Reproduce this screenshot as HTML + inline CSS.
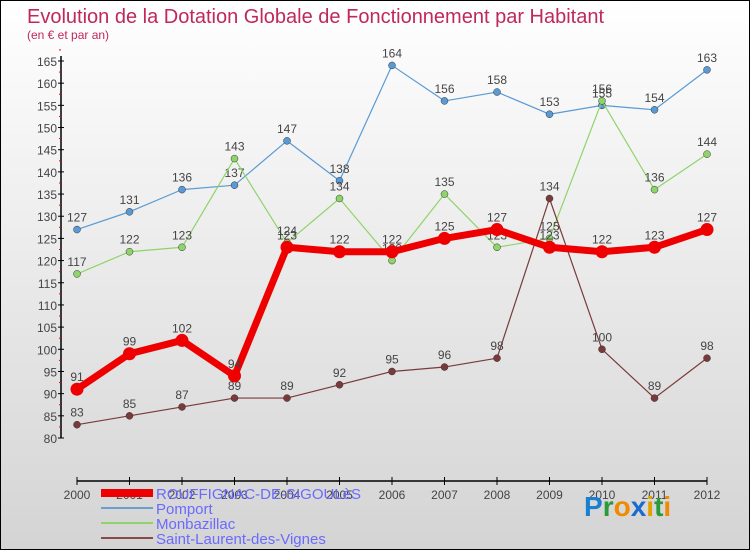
<!DOCTYPE html>
<html><head><meta charset="utf-8"><style>
body{margin:0;}
#c{width:748px;height:548px;border:1px solid #000;background:linear-gradient(#fff,#d4d4d4);position:relative;overflow:hidden;font-family:"Liberation Sans",sans-serif;}
</style></head><body>
<div id="c">
<svg id="s" width="748" height="548" xmlns="http://www.w3.org/2000/svg" style="position:absolute;left:0;top:0">
<text x="26" y="22" font-size="20" fill="#c0285a">Evolution de la Dotation Globale de Fonctionnement par Habitant</text>
<text x="26" y="38" font-size="12" fill="#c0285a">(en € et par an)</text>
<g id="axes"></g><g id="plot"></g>
<g font-size="15" fill="#6a6aff">
<rect x="100" y="488" width="52" height="8" fill="#ee0000"/>
<text x="155" y="498">ROUFFIGNAC-DE-SIGOULèS</text>
<rect x="100" y="506" width="52" height="2" fill="#6a9fd0"/>
<text x="155" y="513">Pomport</text>
<rect x="100" y="521" width="52" height="2" fill="#8fd46a"/>
<text x="155" y="528">Monbazillac</text>
<rect x="100" y="536" width="52" height="2" fill="#8a4a4a"/>
<text x="155" y="543">Saint-Laurent-des-Vignes</text>
</g>
<text x="583" y="515" font-size="28" font-weight="bold"><tspan fill="#1a7fd0">P</tspan><tspan fill="#2a9a3a">r</tspan><tspan fill="#f08a00">o</tspan><tspan fill="#1a6ad0">x</tspan><tspan fill="#e0a000">i</tspan><tspan fill="#2a9a3a">t</tspan><tspan fill="#f08a00">i</tspan></text>
</svg>
</div>
<script>
const years=[2000,2001,2002,2003,2004,2005,2006,2007,2008,2009,2010,2011,2012];
const rouffignac=[91,99,102,94,123,122,122,125,127,123,122,123,127];
const pomport=[127,131,136,137,147,138,164,156,158,153,155,154,163];
const monbazillac=[117,122,123,143,124,134,120,135,123,125,156,136,144];
const saintLaurent=[83,85,87,89,89,92,95,96,98,134,100,89,98];
const yTicks=[80,85,90,95,100,105,110,115,120,125,130,135,140,145,150,155,160,165];
const NS="http://www.w3.org/2000/svg";
function X(i){return 76+i*52.5;}
function Y(v){return 437-(v-80)*(377/85);}
function mk(t,a,p){const e=document.createElementNS(NS,t);for(const k in a)e.setAttribute(k,a[k]);p.appendChild(e);return e;}
const ax=document.getElementById('axes'),pl=document.getElementById('plot');
let e=mk('line',{x1:60,y1:55,x2:60,y2:437,stroke:'#000','stroke-width':1.5},ax);


e=mk('line',{x1:76,y1:480,x2:706,y2:480,stroke:'#000','stroke-width':1.5},ax);


yTicks.forEach(v=>{
 mk('line',{x1:57,y1:Y(v),x2:63,y2:Y(v),stroke:'#000'},ax);
 mk('line',{x1:58,y1:Y(v+2.5),x2:60,y2:Y(v+2.5),stroke:'#e00'},ax);
 const t=mk('text',{x:56,y:Y(v)+5,'text-anchor':'end','font-size':12,fill:'#444'},ax);
 t.textContent=v;
 
 
});
years.forEach((y,i)=>{
 mk('line',{x1:X(i),y1:476,x2:X(i),y2:484,stroke:'#000'},ax);
 const t=mk('text',{x:X(i),y:465+32,'text-anchor':'middle','font-size':12,fill:'#444'},ax);
 t.setAttribute('y',498);
 t.textContent=y;
 
 
});
function series(d,col,w,r,name){
 const g=mk('g',{},pl);
 
 
 const l=mk('polyline',{points:d.map((v,i)=>X(i)+','+Y(v)).join(' '),fill:'none',stroke:col,'stroke-width':w,'stroke-linejoin':'round'},g);
 
 
 d.forEach((v,i)=>{
  const c=mk('circle',{cx:X(i),cy:Y(v),r:r,fill:col,stroke:w>3?col:'#333','stroke-width':w>3?0:0.5},g);
  
  
  const t=mk('text',{x:X(i),y:Y(v)-8,'text-anchor':'middle','font-size':12,fill:'#444'},g);
  t.textContent=v;
  
  
 });
}
series(pomport,'#5a9ad4',1.2,3.5,'pomport');
series(monbazillac,'#8fd46a',1.2,3.5,'monbazillac');
series(saintLaurent,'#7a3a3a',1.2,3.5,'saint-laurent');
series(rouffignac,'#ee0000',7,6.5,'rouffignac');
</script>
</body></html>
